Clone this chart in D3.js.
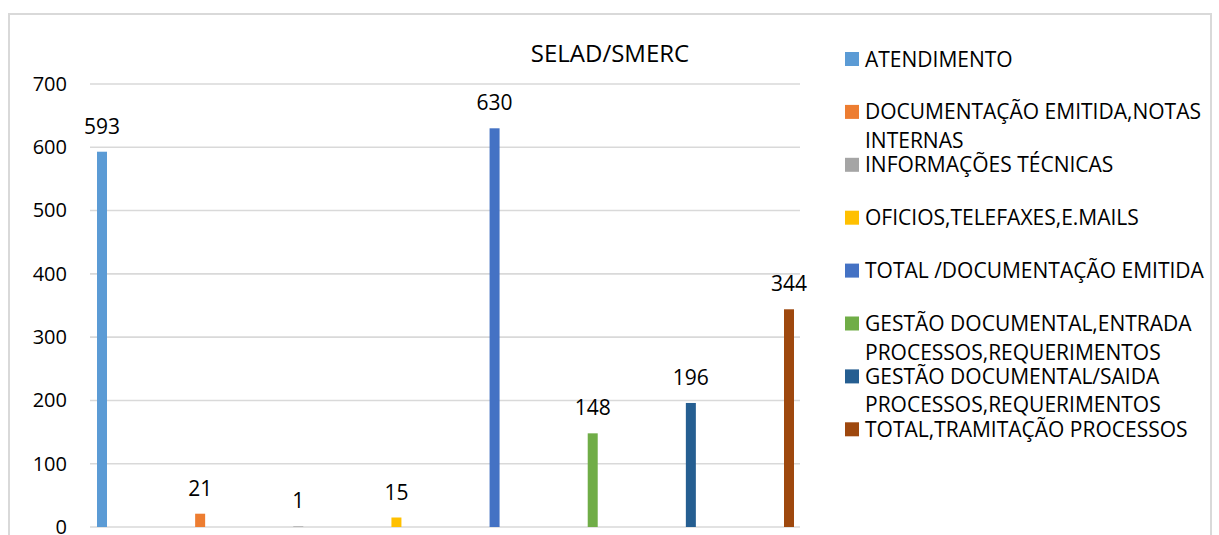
<!DOCTYPE html>
<html>
<head>
<meta charset="utf-8">
<script src="https://cdn.jsdelivr.net/npm/d3@7"></script>
<style>
  body { margin: 0; background: #fff; }
  text { font-family: "Open Sans", "Noto Sans", sans-serif; fill: #000; }
</style>
</head>
<body>
<div id="chart"></div>
<script>
// séries (une seule catégorie, 8 séries)
const series = [
  "ATENDIMENTO",
  "DOCUMENTAÇÃO EMITIDA,NOTAS INTERNAS",
  "INFORMAÇÕES TÉCNICAS",
  "OFICIOS,TELEFAXES,E.MAILS",
  "TOTAL /DOCUMENTAÇÃO EMITIDA",
  "GESTÃO DOCUMENTAL,ENTRADA PROCESSOS,REQUERIMENTOS",
  "GESTÃO DOCUMENTAL/SAIDA PROCESSOS,REQUERIMENTOS",
  "TOTAL,TRAMITAÇÃO PROCESSOS"
]
const values = [593, 21, 1, 15, 630, 148, 196, 344]
const colors = ["#5B9BD5", "#ED7D31", "#A5A5A5", "#FFC000", "#4472C4", "#70AD47", "#255E91", "#9E480E"]
// lignes du texte de légende
const legendLines = [
  ["ATENDIMENTO"],
  ["DOCUMENTAÇÃO EMITIDA,NOTAS", "INTERNAS"],
  ["INFORMAÇÕES TÉCNICAS"],
  ["OFICIOS,TELEFAXES,E.MAILS"],
  ["TOTAL /DOCUMENTAÇÃO EMITIDA"],
  ["GESTÃO DOCUMENTAL,ENTRADA", "PROCESSOS,REQUERIMENTOS"],
  ["GESTÃO DOCUMENTAL/SAIDA", "PROCESSOS,REQUERIMENTOS"],
  ["TOTAL,TRAMITAÇÃO PROCESSOS"]
]
const yTicks = [0, 100, 200, 300, 400, 500, 600, 700]

const W = 1219, H = 535

const svg = d3.select("#chart").append("svg")
  .attr("width", W)
  .attr("height", H)

// cadre
svg.append("rect")
  .attr("x", 9).attr("y", 14)
  .attr("width", 1202).attr("height", 540)
  .attr("fill", "none")
  .attr("stroke", "#d9d9d9")
  .attr("stroke-width", 2)

const plot = { left: 90, right: 800, top: 84, bottom: 527 }

const y = d3.scaleLinear()
  .domain([0, 700])
  .range([plot.bottom, plot.top])

const x = d3.scalePoint()
  .domain(series)
  .range([102, 789])

// grille
svg.append("g")
  .selectAll("line")
  .data(yTicks)
  .enter().append("line")
  .attr("x1", plot.left).attr("x2", plot.right)
  .attr("y1", d => y(d)).attr("y2", d => y(d))
  .attr("stroke", "#d9d9d9")
  .attr("stroke-width", 1.6)

// axe Y (sans trait)
const yAxis = svg.append("g")
  .attr("transform", "translate(67,0)")
  .call(d3.axisLeft(y).tickValues(yTicks).tickSize(0).tickPadding(0))
yAxis.select(".domain").remove()
yAxis.selectAll("text")
  .style("font-family", "'Open Sans', 'Noto Sans', sans-serif")
  .style("font-size", "20px")
  .attr("fill", "#000")

// barres
const bw = 10
svg.selectAll(".bar")
  .data(values)
  .enter().append("rect")
  .attr("class", "bar")
  .attr("x", (d, i) => x(series[i]) - bw / 2)
  .attr("y", d => y(d))
  .attr("width", bw)
  .attr("height", d => y(0) - y(d))
  .attr("fill", (d, i) => colors[i])

// étiquettes de valeurs
svg.selectAll(".lbl")
  .data(values)
  .enter().append("text")
  .attr("class", "lbl")
  .attr("x", (d, i) => x(series[i]))
  .attr("y", d => y(d) - 18)
  .attr("text-anchor", "middle")
  .style("font-size", "21px")
  .text(d => d)

// titre
svg.append("text")
  .attr("x", 610)
  .attr("y", 62)
  .attr("text-anchor", "middle")
  .style("font-size", "24px")
  .text("SELAD/SMERC")

// légende
const legend = svg.append("g")
const lg = legend.selectAll("g")
  .data(legendLines)
  .enter().append("g")
  .attr("transform", (d, i) => "translate(845," + (59 + i * 52.9) + ")")

lg.append("rect")
  .attr("x", 0).attr("y", -7)
  .attr("width", 14).attr("height", 14)
  .attr("fill", (d, i) => colors[i])

lg.each(function(lines) {
  d3.select(this).selectAll("text")
    .data(lines)
    .enter().append("text")
    .attr("x", 20)
    .attr("y", (d, j) => j * 28.5 + 7.5)
    .style("font-size", "21px")
    .text(d => d)
})
</script>
</body>
</html>
